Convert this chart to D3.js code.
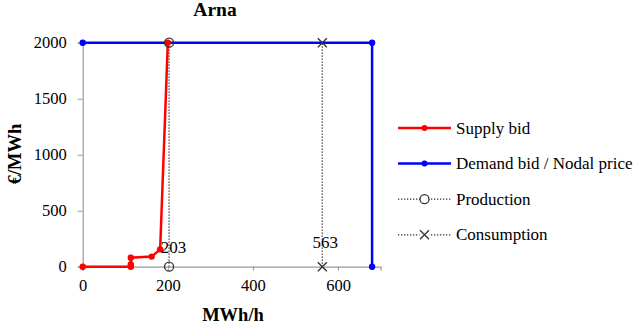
<!DOCTYPE html>
<html>
<head>
<meta charset="utf-8">
<script src="https://cdn.jsdelivr.net/npm/d3@7"></script>
<style>
  body { margin: 0; background: #fff; }
</style>
</head>
<body>
<div id="chart"></div>
<script>
// data
var supplyX = [0, 113, 113, 113, 162, 182, 200];
var supplyY = [0, 0, 20, 80, 90, 155, 2000];
var demandX = [0, 680, 680];
var demandY = [2000, 2000, 0];
var production = 203;
var consumption = 563;
var xTicks = [0, 200, 400, 600];
var yTicks = [0, 500, 1000, 1500, 2000];
var legendLabels = ["Supply bid", "Demand bid / Nodal price", "Production", "Consumption"];

var W = 642, H = 331;
var FONT = "'Liberation Serif', 'Times New Roman', serif";

var svg = d3.select("#chart").append("svg")
  .attr("width", W).attr("height", H);

var x = d3.scaleLinear().domain([0, 700]).range([82.7, 380.6]);
var y = d3.scaleLinear().domain([0, 2000]).range([266.7, 42.7]);

// axes
var xAxis = d3.axisBottom(x).tickValues(xTicks).tickFormat(d3.format("d")).tickSize(4).tickPadding(9);
var yAxis = d3.axisLeft(y).tickValues(yTicks).tickFormat(d3.format("d")).tickSize(5).tickPadding(11);

var gx = svg.append("g").attr("transform", "translate(0," + y(0) + ")").call(xAxis);
var gy = svg.append("g").attr("transform", "translate(" + x(0) + ",0)").call(yAxis);
[gx, gy].forEach(function(g){
  g.attr("font-family", null).attr("font-size", null);
  g.select(".domain").attr("stroke", "#999").attr("stroke-width", 1.2);
  g.selectAll(".tick line").attr("stroke", "#999");
  g.selectAll("text").style("font-family", FONT).style("font-size", "16.5px").attr("fill", "#000");
});

function txt(g, xx, yy, s, size, bold){
  return g.append("text").attr("x", xx).attr("y", yy)
    .style("font-family", FONT).style("font-size", size + "px")
    .style("font-weight", bold ? "bold" : "normal").text(s);
}

// title and axis labels
txt(svg, 215, 16, "Arna", 19.5, true).attr("text-anchor", "middle");
txt(svg, 233, 321, "MWh/h", 18.5, true).attr("text-anchor", "middle");
txt(svg, 0, 0, "€/MWh", 18.5, true).attr("text-anchor", "middle")
  .attr("transform", "translate(21,154) rotate(-90)");

var line = d3.line().x(function(d){ return x(d[0]); }).y(function(d){ return y(d[1]); });

// dotted lines: production and consumption
[production, consumption].forEach(function(v){
  svg.append("path")
    .attr("d", line([[v, 0], [v, 2000]]))
    .attr("stroke", "#333").attr("stroke-width", 1.3)
    .attr("stroke-dasharray", "1.3,1.7").attr("fill", "none");
});

// demand line
var demand = demandX.map(function(d, i){ return [d, demandY[i]]; });
svg.append("path").attr("d", line(demand))
  .attr("stroke", "#0000ff").attr("stroke-width", 2.5).attr("fill", "none");
svg.selectAll(".dpt").data(demand).enter().append("circle")
  .attr("cx", function(d){ return x(d[0]); }).attr("cy", function(d){ return y(d[1]); })
  .attr("r", 3.2).attr("fill", "#0000ff");

// supply line
var supply = supplyX.map(function(d, i){ return [d, supplyY[i]]; });
svg.append("path").attr("d", line(supply))
  .attr("stroke", "#ff0000").attr("stroke-width", 2.5).attr("fill", "none");
svg.selectAll(".spt").data(supply).enter().append("circle")
  .attr("cx", function(d){ return x(d[0]); }).attr("cy", function(d){ return y(d[1]); })
  .attr("r", 3.2).attr("fill", "#ff0000");

// production markers (circles)
[0, 2000].forEach(function(v){
  svg.append("circle").attr("cx", x(production)).attr("cy", y(v)).attr("r", 4.5)
    .attr("fill", "none").attr("stroke", "#333").attr("stroke-width", 1.3);
});
// consumption markers (x)
function cross(g, cx, cy, s){
  g.append("path")
    .attr("d", "M" + (cx - s) + "," + (cy - s) + "L" + (cx + s) + "," + (cy + s) +
               "M" + (cx - s) + "," + (cy + s) + "L" + (cx + s) + "," + (cy - s))
    .attr("stroke", "#333").attr("stroke-width", 1.3);
}
[0, 2000].forEach(function(v){ cross(svg, x(consumption), y(v), 4.5); });

// value labels
txt(svg, x(production) + 4.5, y(0) - 13.5, production, 17).attr("text-anchor", "middle");
txt(svg, x(consumption) + 3, y(0) - 18.5, consumption, 17).attr("text-anchor", "middle");

// legend
var lx0 = 398, lx1 = 451, ly = 128, lstep = 35.6;
var leg = svg.append("g");
legendLabels.forEach(function(lbl, i){
  var yy = ly + i * lstep;
  var mid = (lx0 + lx1) / 2;
  if (i < 2) {
    var col = i === 0 ? "#ff0000" : "#0000ff";
    leg.append("line").attr("x1", lx0).attr("x2", lx1).attr("y1", yy).attr("y2", yy)
      .attr("stroke", col).attr("stroke-width", 2.5);
    leg.append("circle").attr("cx", mid).attr("cy", yy).attr("r", 3).attr("fill", col);
  } else {
    leg.append("line").attr("x1", lx0).attr("x2", lx1).attr("y1", yy).attr("y2", yy)
      .attr("stroke", "#333").attr("stroke-width", 1.3).attr("stroke-dasharray", "1.3,1.7");
    if (i === 2) {
      leg.append("circle").attr("cx", mid).attr("cy", yy).attr("r", 4.5)
        .attr("fill", "#fff").attr("stroke", "#333").attr("stroke-width", 1.3);
    } else {
      leg.append("rect").attr("x", mid - 5).attr("y", yy - 5).attr("width", 10).attr("height", 10).attr("fill", "#fff");
      cross(leg, mid, yy, 4.5);
    }
  }
  txt(leg, lx1 + 5, yy + 5.5, lbl, 17);
});
</script>
</body>
</html>
